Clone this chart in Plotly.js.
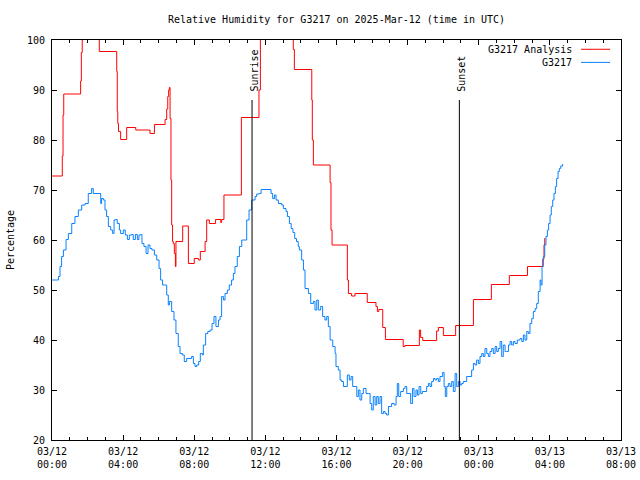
<!DOCTYPE html>
<html>
<head>
<meta charset="utf-8">
<script src="https://cdn.plot.ly/plotly-3.0.1.min.js"></script>
<style>html,body{margin:0;padding:0;background:#fff;}#chart{width:640px;height:480px;}</style>
</head>
<body>
<div id="chart"></div>
<script>
// Time values are hours after 2025-03-12 00:00 UTC
const startDay = '2025-03-12';

const analysisHours = [0, 0.58, 0.62, 0.66, 1.61, 1.65, 1.70, 2.66, 3.64, 3.67, 3.70, 3.74, 3.86, 4.20, 4.71, 5.51, 5.76, 6.36, 6.45, 6.51, 6.56, 6.60, 6.64, 6.69, 6.73, 6.78, 6.82, 6.88, 6.94, 6.97, 7.35, 7.67, 8.00, 8.23, 8.34, 8.61, 8.70, 8.85, 9.20, 9.49, 9.54, 9.67, 10.65, 11.64, 11.72, 13.57, 13.63, 14.61, 14.64, 14.70, 15.64, 15.69, 15.75, 16.61, 16.67, 16.85, 17.04, 17.73, 18.22, 18.30, 18.38, 18.60, 18.75, 19.75, 19.85, 20.66, 20.73, 20.85, 21.63, 21.73, 22.01, 22.70, 23.70, 24.71, 25.72, 26.74, 27.60, 27.67, 27.71, 27.74];
const analysisValues = [72.8, 76.8, 85, 89.2, 91.8, 97.5, 101, 97.7, 93.7, 85.7, 83.3, 81.7, 80.1, 82.5, 82, 81.3, 83.1, 84.1, 86.2, 88.7, 90, 90.5, 84.3, 72, 63, 59.7, 59.3, 57.3, 54.7, 59.7, 62.8, 55.3, 56.3, 56, 57.7, 59.7, 64, 63.3, 64.1, 63.5, 64.1, 69, 84.5, 90, 101, 98.1, 94.1, 88, 80, 75, 71.5, 62, 59, 52, 49.3, 48.8, 49.3, 47.5, 46.7, 45.7, 46.1, 42.5, 40.1, 38.7, 38.9, 42, 40.5, 39.9, 41.8, 42.5, 40.9, 42.9, 48.1, 51.1, 52.9, 54.7, 56.2, 59, 60.3, 60.3];

const stationHours = [0, 0.26, 0.36, 0.45, 0.54, 0.64, 0.79, 0.92, 1.11, 1.29, 1.48, 1.67, 1.86, 2.04, 2.23, 2.32, 2.70, 2.74, 2.79, 2.89, 2.98, 3.07, 3.17, 3.30, 3.41, 3.49, 3.58, 3.67, 3.79, 3.86, 4.01, 4.12, 4.24, 4.35, 4.50, 4.57, 4.69, 4.80, 4.89, 4.99, 5.06, 5.17, 5.29, 5.40, 5.51, 5.62, 5.76, 5.89, 6.02, 6.11, 6.22, 6.36, 6.45, 6.54, 6.60, 6.73, 6.86, 6.97, 7.10, 7.20, 7.33, 7.44, 7.57, 7.76, 7.85, 7.95, 8.04, 8.14, 8.25, 8.34, 8.46, 8.51, 8.64, 8.76, 8.89, 9.00, 9.11, 9.22, 9.36, 9.45, 9.54, 9.64, 9.73, 9.86, 9.97, 10.10, 10.20, 10.29, 10.42, 10.54, 10.67, 10.86, 10.95, 11.08, 11.23, 11.29, 11.42, 11.51, 11.66, 11.76, 12.26, 12.32, 12.41, 12.51, 12.60, 12.73, 12.92, 13.01, 13.16, 13.24, 13.35, 13.45, 13.55, 13.65, 13.75, 13.85, 13.91, 14.04, 14.14, 14.23, 14.42, 14.55, 14.70, 14.79, 14.89, 14.98, 15.11, 15.22, 15.35, 15.45, 15.54, 15.64, 15.79, 15.92, 15.97, 16.10, 16.20, 16.29, 16.39, 16.54, 16.61, 16.72, 16.82, 16.91, 17.04, 17.14, 17.23, 17.32, 17.42, 17.51, 17.66, 17.79, 17.89, 17.98, 18.07, 18.17, 18.26, 18.35, 18.45, 18.54, 18.64, 18.73, 18.82, 18.92, 19.01, 19.10, 19.24, 19.35, 19.42, 19.50, 19.61, 19.76, 19.85, 19.95, 20.08, 20.17, 20.27, 20.36, 20.47, 20.55, 20.64, 20.74, 20.83, 20.98, 21.07, 21.17, 21.26, 21.35, 21.45, 21.54, 21.63, 21.73, 21.82, 21.97, 22.05, 22.12, 22.20, 22.29, 22.38, 22.48, 22.57, 22.67, 22.76, 22.85, 22.95, 23.04, 23.13, 23.23, 23.32, 23.51, 23.60, 23.70, 23.79, 23.88, 23.98, 24.07, 24.17, 24.26, 24.35, 24.45, 24.54, 24.63, 24.73, 24.82, 24.92, 25.01, 25.10, 25.20, 25.29, 25.38, 25.48, 25.57, 25.67, 25.76, 25.85, 25.95, 26.04, 26.17, 26.32, 26.42, 26.51, 26.60, 26.70, 26.79, 26.88, 26.98, 27.07, 27.17, 27.26, 27.35, 27.45, 27.50, 27.56, 27.63, 27.71, 27.78, 27.86, 27.93, 28.01, 28.08, 28.16, 28.23, 28.31, 28.38, 28.46, 28.53, 28.61, 28.72];
const stationValues = [52, 52, 52.7, 54.7, 56.7, 58, 60.1, 61.3, 63.3, 64.7, 66, 67, 67.3, 69.3, 70.3, 69.3, 69.3, 67.3, 68.3, 68, 66, 64.7, 62.7, 62, 61.3, 64, 64.1, 63.3, 62, 61.3, 62, 61, 60.1, 61, 61.1, 60.1, 61.1, 60.1, 61, 61.1, 59.3, 58.7, 57.3, 59, 58.3, 58, 57, 56, 54.3, 52, 51, 51, 49, 47, 47.7, 45.7, 44, 41.3, 38.7, 37.3, 37, 35.7, 36.3, 36.3, 36.7, 35.3, 34.7, 35, 35.7, 37.3, 37, 39, 41.3, 41.7, 42, 43.3, 44.7, 42.7, 44, 44.7, 48.7, 48, 49.3, 50, 51, 52, 53.3, 54.7, 56.7, 58.7, 60, 60, 64, 66, 68, 68, 68.7, 69.2, 69.3, 70.1, 70.1, 69.3, 68.3, 69, 68, 67.3, 67, 66.3, 65.7, 64.7, 63.3, 62.3, 61.5, 60.3, 59.7, 58.7, 58, 56, 54, 50.3, 49.3, 47.3, 47.7, 46, 48, 46, 46.7, 44.7, 44, 44.7, 42.7, 40, 38.7, 37.3, 34.7, 34, 32, 31.7, 30.7, 30.7, 33, 32, 32.7, 30.7, 30.7, 28.7, 30, 28, 29.3, 30.3, 29.3, 29.3, 27.3, 26, 28.7, 27, 28.7, 27.3, 28.7, 25.3, 25.7, 25.3, 25, 26.7, 26.7, 27.3, 27, 28.7, 31.3, 28.7, 29.7, 30.3, 30.7, 29.3, 29.3, 27.3, 30.3, 28.7, 30, 29, 30.7, 29.3, 29.7, 29.7, 30.7, 31.3, 30.7, 31.7, 32.3, 32, 32.3, 31.7, 32.7, 33.5, 30.7, 28.7, 30.7, 31.3, 30.7, 31.7, 29.7, 33.3, 30.7, 31.7, 31, 31.3, 31.7, 31.7, 32.7, 32.7, 34, 35.3, 35, 36, 35.3, 36.7, 37.3, 36.7, 38.3, 37.3, 36.7, 37.7, 38.3, 37.3, 38.7, 37.7, 38.3, 39.7, 36.7, 39, 37.7, 37.7, 39, 39.7, 39, 39.7, 39.3, 40, 40.3, 39.7, 41, 40, 41.7, 41.3, 43.3, 44.3, 45.7, 46.3, 47.3, 49.7, 52, 51, 54.7, 56.7, 59, 60.7, 62, 63.3, 65, 66.7, 68, 69.3, 70.7, 72.3, 73.7, 74.3, 74.8, 75.2];

const markerNames = ['Sunrise', 'Sunset'];
const markerHours = [11.25, 22.91];
const markerTop = 88;

const seriesNames = ['G3217 Analysis', 'G3217'];
const seriesColors = ['#ff0000', '#0a80ff'];

const xStartHours = 0, xEndHours = 32;
const yMin = 20, yMax = 100;

const base = Date.parse(startDay + 'T00:00:00Z');
const toMs = h => base + h * 3600000;

const FONT = 'DejaVu Sans Mono, Liberation Mono, monospace';

const traces = [
  {
    x: analysisHours.map(toMs), y: analysisValues, type: 'scatter', mode: 'lines',
    name: seriesNames[0], line: {color: seriesColors[0], width: 1, shape: 'hv'}, showlegend: false
  },
  {
    x: stationHours.map(toMs), y: stationValues, type: 'scatter', mode: 'lines',
    name: seriesNames[1], line: {color: seriesColors[1], width: 1, shape: 'hv'}, showlegend: false
  }
];

const shapes = markerHours.map(h => ({
  type: 'line', xref: 'x', yref: 'y', x0: toMs(h), x1: toMs(h), y0: yMin, y1: markerTop,
  line: {color: '#000', width: 1}
}));
// legend samples
const legY = [0.9768, 0.944];
seriesNames.forEach((n, i) => {
  shapes.push({type: 'line', xref: 'paper', yref: 'paper', x0: 0.9297, x1: 0.9807, y0: legY[i], y1: legY[i],
    line: {color: seriesColors[i], width: 1}});
});

const annotations = markerNames.map((n, i) => ({
  text: n, x: toMs(markerHours[i]), y: 89.2, xref: 'x', yref: 'y', textangle: -90,
  xanchor: 'center', yanchor: 'bottom', showarrow: false, xshift: 1.5,
  font: {family: FONT, size: 10, color: '#000'}
}));
seriesNames.forEach((n, i) => {
  annotations.push({text: n, xref: 'paper', yref: 'paper', x: 0.9174, y: legY[i], xanchor: 'right', yanchor: 'middle',
    showarrow: false, font: {family: FONT, size: 10, color: '#000'}});
});

const layout = {
  width: 640, height: 480,
  margin: {l: 52, r: 19, t: 40, b: 40, pad: 0},
  paper_bgcolor: '#fff', plot_bgcolor: '#fff',
  font: {family: FONT, size: 10, color: '#000'},
  title: {text: 'Relative Humidity for G3217 on 2025-Mar-12 (time in UTC)', x: 0.5, xref: 'paper',
    y: 1 - 19/480, yref: 'container', yanchor: 'middle', font: {family: FONT, size: 10, color: '#000'}},
  xaxis: {
    type: 'date', range: [toMs(xStartHours), toMs(xEndHours)],
    tick0: toMs(0), dtick: 4 * 3600000, tickformat: '%m/%d<br>%H:%M',
    ticks: 'inside', ticklen: 5, tickwidth: 1, tickcolor: '#000',
    minor: {dtick: 3600000, ticks: 'inside', ticklen: 3, tickcolor: '#000', showgrid: false},
    showline: true, linecolor: '#000', linewidth: 1, mirror: 'allticks',
    showgrid: false, zeroline: false, tickfont: {family: FONT, size: 10, color: '#000'},
    ticklabelstandoff: 2
  },
  yaxis: {
    range: [yMin, yMax], dtick: 10, tick0: 0,
    ticks: 'inside', ticklen: 5, tickwidth: 1, tickcolor: '#000',
    showline: true, linecolor: '#000', linewidth: 1, mirror: 'allticks',
    showgrid: false, zeroline: false, tickfont: {family: FONT, size: 10, color: '#000'},
    ticklabelstandoff: 4,
    title: {text: 'Percentage', standoff: 10, font: {family: FONT, size: 10, color: '#000'}}
  },
  showlegend: false,
  shapes: shapes,
  annotations: annotations
};

Plotly.newPlot('chart', traces, layout, {displayModeBar: false, staticPlot: true});
</script>
</body>
</html>
